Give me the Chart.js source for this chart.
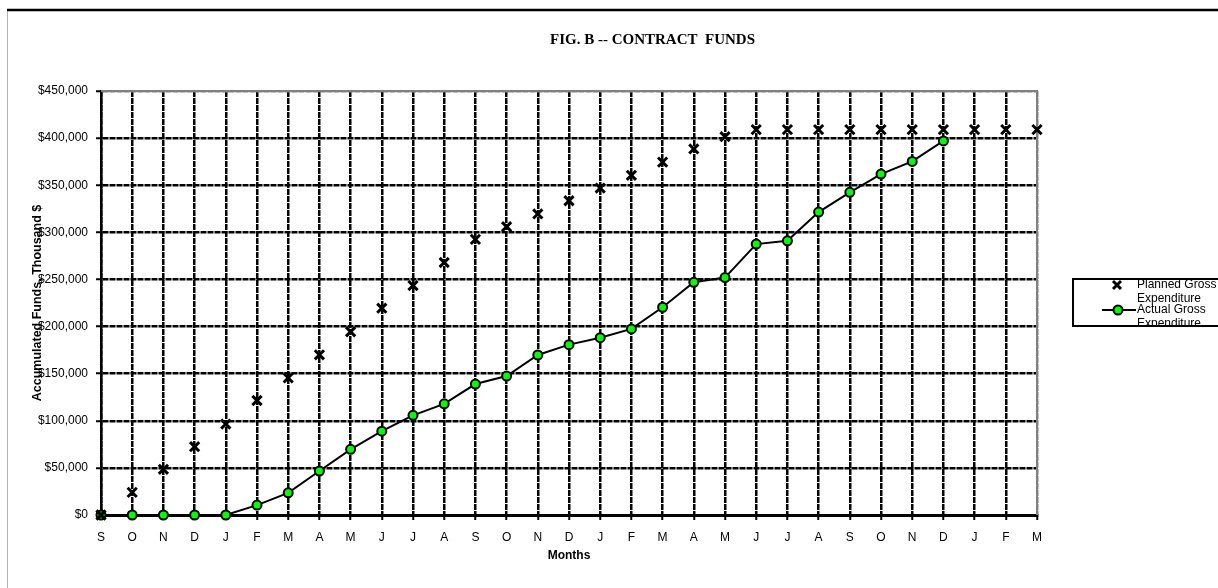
<!DOCTYPE html>
<html>
<head>
<meta charset="utf-8">
<script src="https://cdn.jsdelivr.net/npm/chart.js@4/dist/chart.umd.min.js"></script>
<style>
  html, body { margin: 0; padding: 0; background: #ffffff; }
  #wrap { width: 1218px; height: 588px; position: relative; }
</style>
</head>
<body>
<div id="wrap"><canvas id="c" width="1218" height="588"></canvas></div>
<script>
const months = ["S","O","N","D","J","F","M","A","M","J","J","A","S","O","N","D",
                "J","F","M","A","M","J","J","A","S","O","N","D","J","F","M"];
const planned = [0, 24000, 48500, 72500, 96500, 121500, 145500, 170000, 194500, 219500, 243500, 268000,
                 292500, 306000, 319500, 333500, 347000, 360500, 374500, 388500, 401500, 409000, 409000,
                 409000, 409000, 409000, 409000, 409000, 409000, 409000, 409000];
const actual = [0, 0, 0, 0, 0, 10500, 23500, 46700, 69700, 89000, 105800, 118000,
                139000, 147500, 169800, 180800, 188200, 197500, 220500, 247000, 252000, 287500,
                291000, 321500, 342500, 361800, 375300, 397000, null, null, null];
const yTicks = [0, 50000, 100000, 150000, 200000, 250000, 300000, 350000, 400000, 450000];
const titleText = "FIG. B -- CONTRACT  FUNDS";
const yTitle = "Accumulated Funds, Thousand $";
const xTitle = "Months";
const seriesNames = ["Planned Gross Expenditure", "Actual Gross Expenditure"];

function money(v) { return "$" + Number(v).toLocaleString("en-US"); }

const framePlugin = {
  id: "frame",
  beforeDraw(chart) {
    const ctx = chart.ctx;
    ctx.save();
    ctx.fillStyle = "#ffffff";
    ctx.fillRect(0, 0, chart.width, chart.height);
    ctx.strokeStyle = "#b4b4b4";
    ctx.lineWidth = 1;
    ctx.beginPath(); ctx.moveTo(7.5, 10); ctx.lineTo(7.5, chart.height); ctx.stroke();
    ctx.strokeStyle = "#000000";
    ctx.lineWidth = 2.5;
    ctx.beginPath(); ctx.moveTo(7, 10); ctx.lineTo(chart.width, 10); ctx.stroke();
    ctx.fillStyle = "#000000";
    ctx.font = "bold 15px 'Liberation Serif', 'Times New Roman', serif";
    ctx.textAlign = "left";
    ctx.textBaseline = "middle";
    ctx.fillText(titleText, 550, 40);
    ctx.restore();
  },
  beforeDatasetsDraw(chart) {
    const a = chart.chartArea, ctx = chart.ctx;
    ctx.save();
    ctx.strokeStyle = "#808080";
    ctx.lineWidth = 2;
    ctx.beginPath();
    ctx.moveTo(a.left, a.top); ctx.lineTo(a.right, a.top); ctx.lineTo(a.right, a.bottom);
    ctx.stroke();
    ctx.restore();
  },
  afterDraw(chart) {
    const ctx = chart.ctx;
    const bx = 1073, by = 279, bw = 170, bh = 47;
    ctx.save();
    ctx.beginPath(); ctx.rect(bx, by, bw, bh); ctx.clip();
    ctx.font = "12px 'Liberation Sans', Arial, sans-serif";
    ctx.fillStyle = "#000";
    ctx.textAlign = "left";
    ctx.textBaseline = "middle";
    const words0 = seriesNames[0].split(" ");
    const words1 = seriesNames[1].split(" ");
    ctx.fillText(words0.slice(0, 2).join(" "), 1137, 285);
    ctx.fillText(words0.slice(2).join(" "), 1137, 299);
    ctx.fillText(words1.slice(0, 2).join(" "), 1137, 310);
    ctx.fillText(words1.slice(2).join(" "), 1137, 324);
    ctx.strokeStyle = "#000"; ctx.lineWidth = 3;
    const mx = 1117, my = 285, r = 4;
    ctx.beginPath();
    ctx.moveTo(mx - r, my - r); ctx.lineTo(mx + r, my + r);
    ctx.moveTo(mx + r, my - r); ctx.lineTo(mx - r, my + r);
    ctx.stroke();
    ctx.lineWidth = 2;
    ctx.beginPath(); ctx.moveTo(1102, 310); ctx.lineTo(1136, 310); ctx.stroke();
    ctx.beginPath(); ctx.arc(1118, 310, 4.5, 0, Math.PI * 2);
    ctx.fillStyle = "#00ff00"; ctx.fill();
    ctx.lineWidth = 2; ctx.stroke();
    ctx.restore();
    ctx.save();
    ctx.strokeStyle = "#000"; ctx.lineWidth = 2;
    ctx.strokeRect(bx, by, bw, bh);
    ctx.restore();
  }
};

new Chart(document.getElementById("c"), {
  type: "line",
  data: {
    labels: months,
    datasets: [
      {
        label: seriesNames[0],
        data: planned,
        showLine: false,
        pointStyle: "crossRot",
        pointRadius: 6.5,
        pointHoverRadius: 6.5,
        pointBorderWidth: 3,
        borderColor: "#000000",
        backgroundColor: "#000000",
        clip: false
      },
      {
        label: seriesNames[1],
        data: actual,
        borderColor: "#000000",
        borderWidth: 2,
        pointStyle: "circle",
        pointRadius: 4.5,
        pointHoverRadius: 4.5,
        pointBackgroundColor: "#00ff00",
        pointBorderColor: "#000000",
        pointBorderWidth: 2,
        tension: 0,
        spanGaps: false,
        clip: false
      }
    ]
  },
  options: {
    responsive: false,
    animation: false,
    events: [],
    layout: { padding: { left: 30, top: 91, right: 181, bottom: 21 } },
    plugins: {
      legend: { display: false },
      title: { display: false },
      tooltip: { enabled: false }
    },
    scales: {
      x: {
        type: "category",
        offset: false,
        grid: {
          offset: false,
          color: (c) => (c.index === months.length - 1 ? "#808080" : "#000000"),
          lineWidth: 2.5,
          tickLength: 5,
          tickColor: "#000000",
          tickWidth: 2
        },
        border: { display: true, color: "#000000", width: 3, dash: [6, 1] },
        ticks: {
          color: "#000000",
          padding: 10,
          maxRotation: 0,
          autoSkip: false,
          font: { family: "'Liberation Sans', Arial, sans-serif", size: 12 }
        },
        title: {
          display: true,
          text: xTitle,
          color: "#000000",
          padding: { top: 4, bottom: 4 },
          font: { family: "'Liberation Sans', Arial, sans-serif", size: 12, weight: "bold" }
        },
        afterFit: (s) => { s.height = 52; }
      },
      y: {
        min: 0,
        max: 450000,
        afterBuildTicks: (s) => { s.ticks = yTicks.map(v => ({ value: v })); },
        grid: {
          color: (c) => (c.tick && c.tick.value === 450000 ? "#808080" : "#000000"),
          lineWidth: 2.5,
          tickLength: 5,
          tickColor: "#000000",
          tickWidth: 2
        },
        border: { display: true, color: "#000000", width: 2.5, dash: [6, 1] },
        ticks: {
          color: "#000000",
          padding: 8,
          callback: (v) => money(v),
          font: { family: "'Liberation Sans', Arial, sans-serif", size: 12 }
        },
        title: {
          display: true,
          text: yTitle,
          color: "#000000",
          padding: { top: 0, bottom: 0 },
          font: { family: "'Liberation Sans', Arial, sans-serif", size: 12.5, weight: "bold" }
        },
        afterFit: (s) => { s.width = 71; }
      }
    }
  },
  plugins: [framePlugin]
});
</script>
</body>
</html>
